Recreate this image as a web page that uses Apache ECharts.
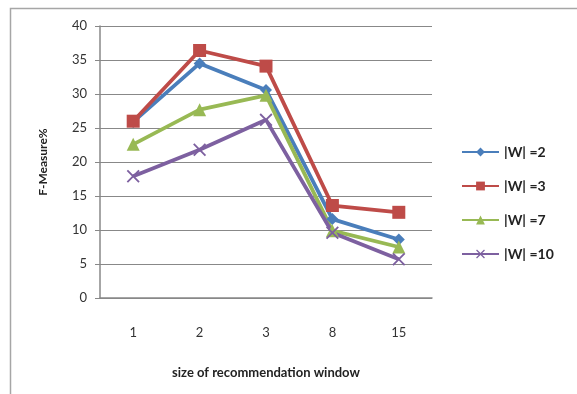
<!DOCTYPE html>
<html>
<head>
<meta charset="utf-8">
<script src="https://cdn.jsdelivr.net/npm/echarts@6/dist/echarts.min.js"></script>
<style>
html,body{margin:0;padding:0;background:#fff;}
#c{width:577px;height:394px;}
</style>
</head>
<body>
<div id="c"></div>
<script>
const categories = ['1', '2', '3', '8', '15'];
const w2 = [25.9, 34.5, 30.6, 11.6, 8.6];
const w3 = [26.0, 36.4, 34.1, 13.6, 12.6];
const w7 = [22.6, 27.7, 29.8, 9.9, 7.5];
const w10 = [17.9, 21.8, 26.2, 9.6, 5.7];
const seriesNames = ['|W| =2', '|W| =3', '|W| =7', '|W| =10'];

const font = 'Lato, "Open Sans", sans-serif';
const xPath = 'path://M2,0 L10,8 L18,0 L20,2 L12,10 L20,18 L18,20 L10,12 L2,20 L0,18 L8,10 L0,2 Z';

const chart = echarts.init(document.getElementById('c'));
const mk = (name, data, color, symbol, size) => ({
  name, type: 'line', data,
  symbol, symbolSize: size,
  lineStyle: { color, width: 3.8 },
  itemStyle: { color },
  animation: false
});
chart.setOption({
  animation: false,
  graphic: [{
    type: 'rect', left: 8, top: 6,
    shape: { width: 640, height: 440 },
    style: { fill: 'none', stroke: '#a6a6a6', lineWidth: 1.5 }
  }],
  grid: { left: 100, top: 26, width: 332, height: 272 },
  legend: {
    orient: 'vertical', left: 456, top: 140,
    itemWidth: 37, itemHeight: 11, itemGap: 20,
    textStyle: { fontFamily: font, fontSize: 14, color: '#222', fontWeight: 'bold' },
    data: seriesNames
  },
  xAxis: {
    type: 'category', data: categories,
    name: 'size of recommendation window', nameLocation: 'middle', nameGap: 68,
    nameTextStyle: { fontFamily: font, fontSize: 13, fontWeight: 'bold', color: '#222' },
    axisLine: { lineStyle: { color: '#888', width: 1.5 } },
    axisTick: { show: false },
    axisLabel: { fontFamily: font, fontSize: 13, color: '#333', margin: 28 }
  },
  yAxis: {
    type: 'value', min: 0, max: 40, interval: 5,
    name: 'F-Measure%', nameLocation: 'middle', nameGap: 51,
    nameTextStyle: { fontFamily: font, fontSize: 12, fontWeight: 'bold', color: '#222' },
    axisLine: { show: true, lineStyle: { color: '#888', width: 1.5 } },
    axisTick: { show: true, length: 5, lineStyle: { color: '#888' } },
    axisLabel: { fontFamily: font, fontSize: 13, color: '#333', margin: 13 },
    splitLine: { lineStyle: { color: '#888', width: 1.2 } }
  },
  series: [
    mk(seriesNames[0], w2, '#4A7EBB', 'diamond', 12),
    mk(seriesNames[1], w3, '#BE4B48', 'rect', 13),
    mk(seriesNames[2], w7, '#98B954', 'triangle', 13),
    mk(seriesNames[3], w10, '#7D60A0', xPath, 13)
  ]
});
</script>
</body>
</html>
